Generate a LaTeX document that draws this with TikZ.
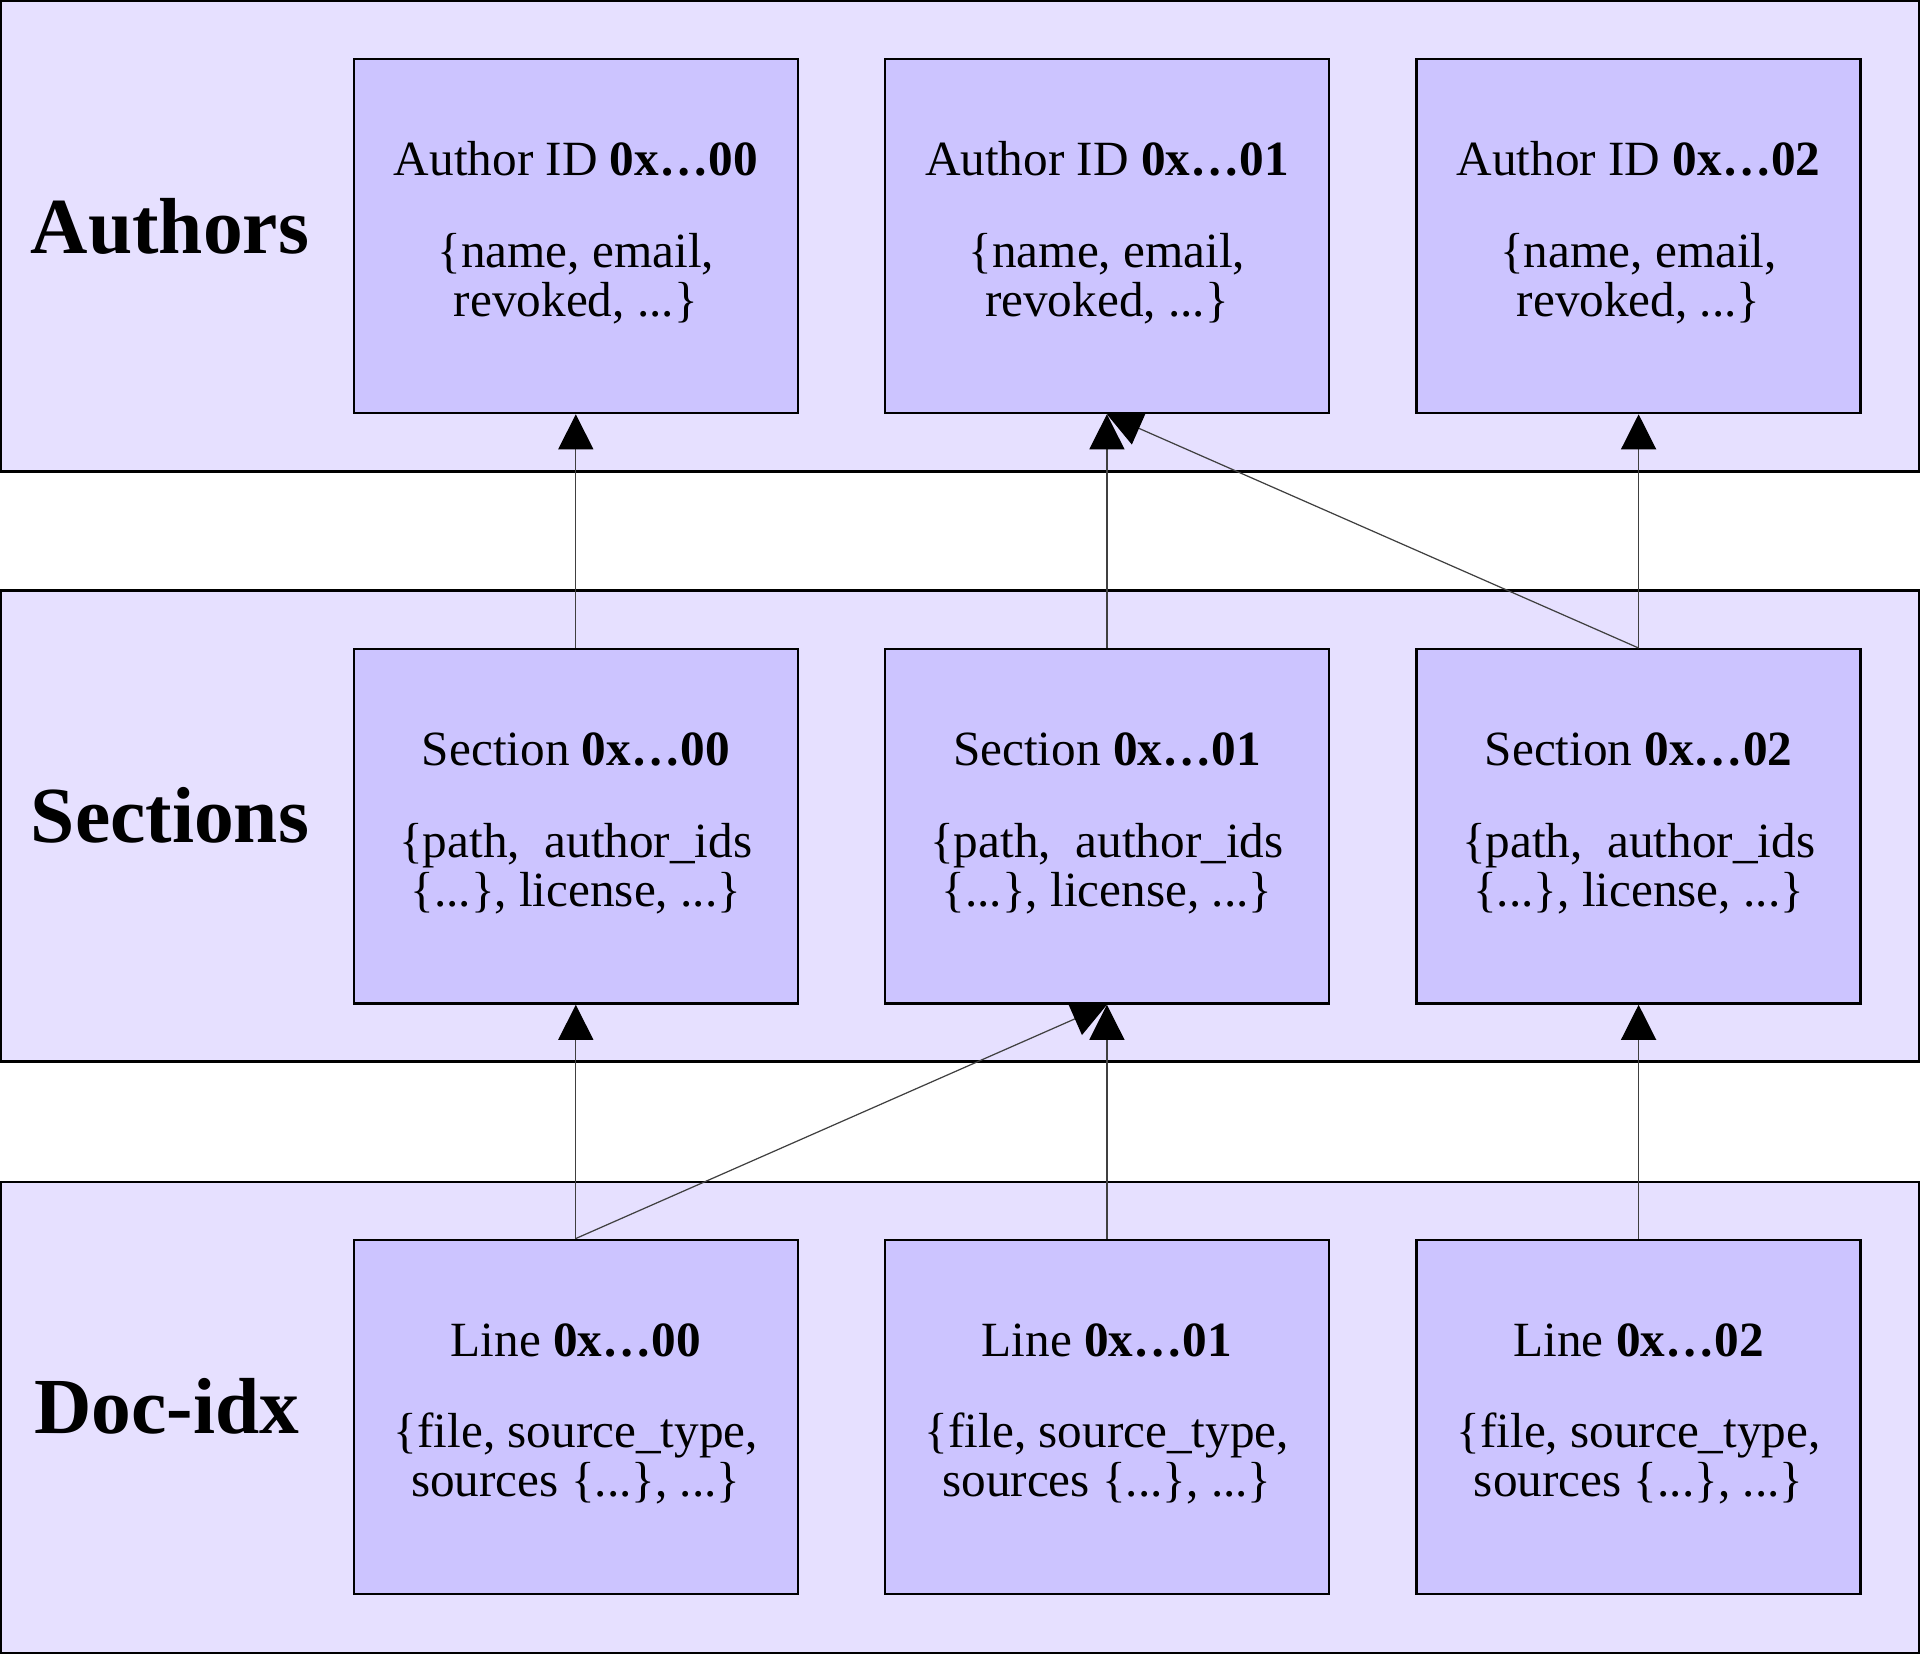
\documentclass[tikz,border=0pt]{standalone}
\usepackage{fontspec}
\setmainfont{Liberation Serif}
\usepackage{xcolor}
\usepackage{tikz}
\usetikzlibrary{arrows.meta, positioning}

\definecolor{bandfill}{RGB}{230,224,255}
\definecolor{recfill}{RGB}{204,196,255}

\tikzset{
  band/.style={draw, line width=0.8pt, fill=bandfill, minimum width=19.175cm, minimum height=4.707cm, inner sep=0pt},
  rec/.style={draw, line width=0.7pt, fill=recfill, minimum width=4.436cm, minimum height=3.541cm, inner sep=0pt, text depth=3.9pt, align=center, font=\fontsize{14pt}{14pt}\selectfont},
  grp/.style={font=\fontsize{22.6pt}{24pt}\selectfont\bfseries},
  link/.style={-{Triangle[length=0.35cm, width=0.35cm, black]}, line width=0.35pt, black!75},
}

\begin{document}
\begin{tikzpicture}[x=0.01cm, y=-0.01cm]
  \useasboundingbox (0,0) rectangle (1921,1658);

  \node[band] (authors) at (959.75, 236.35) {};
  \node[band] (sections) at (959.75, 826.35) {};
  \node[band] (docidx) at (959.75, 1417.5) {};

  \node[grp] (authorslbl) at (170, 226) {Authors};
  \node[grp] (sectionslbl) at (170, 815) {Sections};
  \node[grp] (docidxlbl) at (167, 1406) {Doc-idx};

  \node[rec] (a0) at (575.8, 235.9) {Author ID \textbf{0x…00}\\[12pt]\{name, email,\\revoked, ...\}};
  \node[rec] (a1) at (1106.9, 235.9) {Author ID \textbf{0x…01}\\[12pt]\{name, email,\\revoked, ...\}};
  \node[rec] (a2) at (1638.6, 235.9) {Author ID \textbf{0x…02}\\[12pt]\{name, email,\\revoked, ...\}};

  \node[rec] (s0) at (575.8, 826.4) {Section \textbf{0x…00}\\[12pt]\{path,~~author\_ids\\\{...\}, license, ...\}};
  \node[rec] (s1) at (1106.9, 826.4) {Section \textbf{0x…01}\\[12pt]\{path,~~author\_ids\\\{...\}, license, ...\}};
  \node[rec] (s2) at (1638.6, 826.4) {Section \textbf{0x…02}\\[12pt]\{path,~~author\_ids\\\{...\}, license, ...\}};

  \node[rec] (l0) at (575.8, 1416.9) {Line \textbf{0x…00}\\[12pt]\{file, source\_type,\\sources \{...\}, ...\}};
  \node[rec] (l1) at (1106.9, 1416.9) {Line \textbf{0x…01}\\[12pt]\{file, source\_type,\\sources \{...\}, ...\}};
  \node[rec] (l2) at (1638.6, 1416.9) {Line \textbf{0x…02}\\[12pt]\{file, source\_type,\\sources \{...\}, ...\}};

  \draw[link] (s0.north) -- (a0.south);
  \draw[link] (s1.north) -- (a1.south);
  \draw[link] (s2.north) -- (a2.south);
  \draw[link] (s2.north) -- (a1.south);
  \draw[link] (l0.north) -- (s0.south);
  \draw[link] (l0.north) -- (s1.south);
  \draw[link] (l1.north) -- (s1.south);
  \draw[link] (l2.north) -- (s2.south);
\end{tikzpicture}
\end{document}
